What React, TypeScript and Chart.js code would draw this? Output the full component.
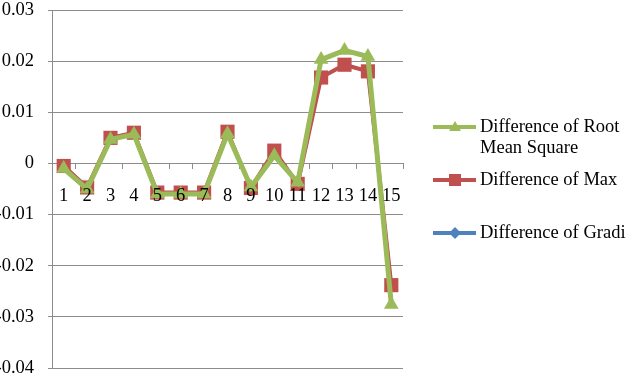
import React, { useEffect, useRef } from "react";
import { Chart, registerables } from "chart.js";

Chart.register(...registerables);

const categories = ["1", "2", "3", "4", "5", "6", "7", "8", "9", "10", "11", "12", "13", "14", "15"];
const rmsValues = [-0.001, -0.005, 0.0047, 0.0057, -0.006, -0.006, -0.006, 0.0058, -0.0046, 0.0015, -0.0037, 0.0203, 0.0221, 0.0209, -0.0276];
const maxValues = [-0.0005, -0.0047, 0.005, 0.006, -0.0057, -0.0057, -0.0057, 0.0062, -0.0048, 0.0025, -0.004, 0.0168, 0.0193, 0.018, -0.0238];
const gradiValues = [-0.0005, -0.0047, 0.005, 0.006, -0.0057, -0.0057, -0.0057, 0.0062, -0.0048, 0.0025, -0.004, 0.0168, 0.0193, 0.018, -0.0238];
const seriesNames = [["Difference of Root", "Mean Square"], ["Difference of Max"], ["Difference of Gradi"]];
const yTicks = [-0.04, -0.03, -0.02, -0.01, 0, 0.01, 0.02, 0.03];

const GREEN = "#9BBB59";
const RED = "#C0504D";
const BLUE = "#4F81BD";
const GRID = "#8c8c8c";
const FONT = "'Liberation Serif', 'Times New Roman', serif";

const legendPlugin = {
  id: "customLegend",
  afterDraw(chart: any) {
    const ctx = chart.ctx as CanvasRenderingContext2D;
    const items = [
      { color: GREEN, shape: "triangle", y: 127, lines: seriesNames[0] },
      { color: RED, shape: "square", y: 180, lines: seriesNames[1] },
      { color: BLUE, shape: "diamond", y: 233, lines: seriesNames[2] },
    ];
    ctx.save();
    for (const it of items) {
      ctx.strokeStyle = it.color;
      ctx.lineWidth = 4;
      ctx.beginPath();
      ctx.moveTo(433, it.y);
      ctx.lineTo(476, it.y);
      ctx.stroke();
      ctx.fillStyle = it.color;
      const cx = 455;
      ctx.beginPath();
      if (it.shape === "triangle") {
        ctx.moveTo(cx, it.y - 6);
        ctx.lineTo(cx + 6, it.y + 4);
        ctx.lineTo(cx - 6, it.y + 4);
        ctx.closePath();
      } else if (it.shape === "square") {
        ctx.rect(cx - 6, it.y - 6, 12, 12);
      } else {
        ctx.moveTo(cx, it.y - 6);
        ctx.lineTo(cx + 6, it.y);
        ctx.lineTo(cx, it.y + 6);
        ctx.lineTo(cx - 6, it.y);
        ctx.closePath();
      }
      ctx.fill();
      ctx.fillStyle = "#000";
      ctx.font = `18.5px ${FONT}`;
      ctx.textBaseline = "middle";
      ctx.textAlign = "left";
      it.lines.forEach((t, i) => ctx.fillText(t, 480, it.y + i * 21));
    }
    ctx.restore();
  },
};

export default function App() {
  const ref = useRef<HTMLCanvasElement | null>(null);
  useEffect(() => {
    if (!ref.current) return;
    const chart = new Chart(ref.current, {
      type: "line",
      data: {
        labels: categories,
        datasets: [
          {
            label: seriesNames[0].join(" "),
            data: rmsValues,
            borderColor: GREEN,
            backgroundColor: GREEN,
            borderWidth: 5,
            pointStyle: "triangle",
            pointRadius: 8.5,
            pointBorderWidth: 0,
            tension: 0,
          },
          {
            label: seriesNames[1].join(" "),
            data: maxValues,
            borderColor: RED,
            backgroundColor: RED,
            borderWidth: 4,
            pointStyle: "rect",
            pointRadius: 10,
            pointBorderWidth: 0,
            tension: 0,
          },
          {
            label: seriesNames[2].join(" "),
            data: gradiValues,
            borderColor: BLUE,
            backgroundColor: BLUE,
            borderWidth: 3,
            pointStyle: "rectRot",
            pointRadius: 5,
            pointBorderWidth: 0,
            tension: 0,
          },
        ],
      },
      options: {
        animation: false,
        responsive: false,
        layout: { padding: { left: 0, right: 224, top: 10, bottom: 9 } },
        plugins: { legend: { display: false }, tooltip: { enabled: false } },
        scales: {
          x: {
            position: { y: 0 } as any,
            offset: true,
            afterFit: (s: any) => {
              s.height = 0;
              s.paddingTop = 0;
              s.paddingBottom = 0;
            },
            grid: {
              display: true,
              drawOnChartArea: false,
              drawTicks: true,
              tickLength: 6,
              color: GRID,
              offset: true,
            },
            border: { display: false },
            ticks: {
              z: 1,
              autoSkip: false,
              maxRotation: 0,
              color: "#000",
              padding: 16,
              font: { family: FONT, size: 18.5 },
            },
          },
          y: {
            min: -0.04,
            max: 0.03,
            afterFit: (s: any) => {
              s.width = 52;
              s.paddingTop = 0;
              s.paddingBottom = 0;
            },
            afterBuildTicks: (s: any) => {
              s.ticks = yTicks.map((v) => ({ value: v }));
            },
            grid: { color: GRID, tickLength: 4, drawTicks: true },
            border: { display: true, color: GRID, width: 1 },
            ticks: {
              color: "#000",
              padding: 14,
              font: { family: FONT, size: 18.5, lineHeight: 1.0 },
              callback: (v: any) => (Number(v) === 0 ? "0" : Number(v).toFixed(2)),
            },
          },
        },
      },
      plugins: [legendPlugin],
    });
    return () => chart.destroy();
  }, []);
  return (
    <div style={{ position: "fixed", left: 0, top: 0, width: 627, height: 378, background: "#fff" }}>
      <canvas ref={ref} width={627} height={378} style={{ display: "block" }} />
    </div>
  );
}
